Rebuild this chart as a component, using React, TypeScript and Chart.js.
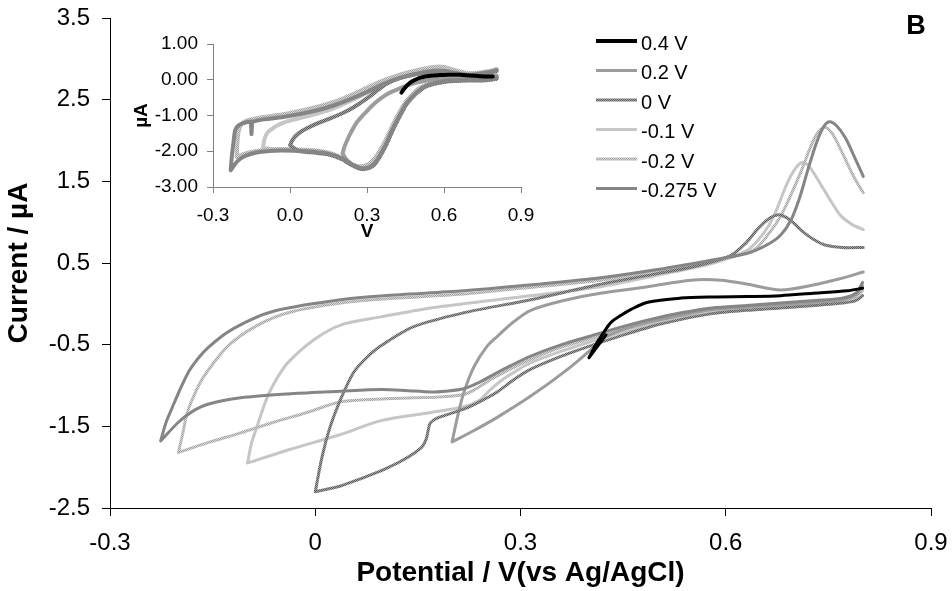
import React, { useEffect, useRef } from 'react';
import { Chart, registerables } from 'chart.js';

Chart.register(...registerables);

const FONT = "'Liberation Sans', Arial, Helvetica, sans-serif";

// ---------- labels / ticks ----------
const seriesLabels = ['0.4 V', '0.2 V', '0 V', '-0.1 V', '-0.2 V', '-0.275 V'];
const xTicks = [-0.3, 0, 0.3, 0.6, 0.9];
const xTickLabels = ['-0.3', '0', '0.3', '0.6', '0.9'];
const yTicks = [-2.5, -1.5, -0.5, 0.5, 1.5, 2.5, 3.5];
const yTickLabels = ['-2.5', '-1.5', '-0.5', '0.5', '1.5', '2.5', '3.5'];
const insetXTicks = [-0.3, 0, 0.3, 0.6, 0.9];
const insetXTickLabels = ['-0.3', '0.0', '0.3', '0.6', '0.9'];
const insetYTicks = [-3, -2, -1, 0, 1];
const insetYTickLabels = ['-3.00', '-2.00', '-1.00', '0.00', '1.00'];

// ---------- main chart series: [potential V, current uA] ----------
const main04 = [
  [0.425, -0.38], [0.4, -0.66], [0.4, -0.66], [0.41, -0.5], [0.42, -0.37], [0.432, -0.23],
  [0.447, -0.14], [0.461, -0.07], [0.486, 0.02], [0.534, 0.07], [0.58, 0.085], [0.632, 0.09],
  [0.68, 0.1], [0.728, 0.13], [0.778, 0.16], [0.8, 0.19],
];
const main02 = [
  [0.8, 0.22], [0.79, 0.11], [0.77, 0.05], [0.73, 0.02], [0.68, -0.01], [0.63, -0.04], [0.58, -0.07],
  [0.535, -0.14], [0.49, -0.22], [0.455, -0.3], [0.43, -0.38], [0.417, -0.44], [0.403, -0.56],
  [0.363, -0.84], [0.315, -1.13], [0.266, -1.39], [0.23, -1.56], [0.2, -1.69], [0.2, -1.69],
  [0.208, -1.38], [0.217, -1.09], [0.232, -0.77], [0.251, -0.52], [0.266, -0.4], [0.29, -0.22],
  [0.315, -0.08], [0.363, 0.04], [0.417, 0.13], [0.486, 0.21], [0.549, 0.29], [0.593, 0.29],
  [0.632, 0.24], [0.68, 0.17], [0.728, 0.23], [0.768, 0.31], [0.801, 0.39],
];
const main00 = [
  [0.8, 0.1], [0.79, 0.04], [0.77, 0.01], [0.73, -0.02], [0.68, -0.05], [0.63, -0.08], [0.58, -0.12],
  [0.535, -0.19], [0.49, -0.28], [0.44, -0.41], [0.4, -0.52], [0.36, -0.64], [0.315, -0.8],
  [0.29, -0.93], [0.266, -1.08], [0.24, -1.2], [0.217, -1.29], [0.195, -1.35], [0.178, -1.4],
  [0.168, -1.46], [0.165, -1.55], [0.162, -1.66], [0.155, -1.76], [0.129, -1.91], [0.1, -2.03],
  [0.07, -2.13], [0.037, -2.23], [0.0, -2.3], [0.0, -2.3], [0.01, -1.87], [0.022, -1.5],
  [0.037, -1.17], [0.056, -0.84], [0.075, -0.66], [0.095, -0.52], [0.144, -0.28], [0.217, -0.11],
  [0.315, 0.05], [0.417, 0.24], [0.5, 0.37], [0.56, 0.47], [0.607, 0.59], [0.63, 0.75],
  [0.645, 0.9], [0.661, 1.03], [0.677, 1.09], [0.69, 1.05], [0.699, 0.99], [0.713, 0.88],
  [0.728, 0.79], [0.745, 0.72], [0.77, 0.69], [0.801, 0.69],
];
const mainM01 = [
  [0.8, 0.16], [0.79, 0.07], [0.77, 0.03], [0.73, 0.0], [0.68, -0.03], [0.63, -0.06], [0.58, -0.09],
  [0.535, -0.16], [0.49, -0.25], [0.44, -0.37], [0.4, -0.47], [0.36, -0.58], [0.315, -0.72],
  [0.3, -0.79], [0.275, -0.92], [0.256, -1.05], [0.24, -1.18], [0.217, -1.26], [0.169, -1.33],
  [0.096, -1.43], [0.037, -1.6], [-0.036, -1.78], [-0.099, -1.95], [-0.099, -1.95],
  [-0.093, -1.7], [-0.087, -1.55], [-0.07, -1.14], [-0.055, -0.9], [-0.04, -0.72], [-0.002, -0.44],
  [0.037, -0.26], [0.096, -0.16], [0.169, -0.05], [0.266, 0.05], [0.417, 0.21], [0.5, 0.35],
  [0.582, 0.5], [0.632, 0.66], [0.655, 0.86], [0.67, 1.07], [0.69, 1.48], [0.702, 1.66],
  [0.712, 1.73], [0.722, 1.68], [0.739, 1.46], [0.755, 1.24], [0.768, 1.08], [0.785, 0.97],
  [0.801, 0.91],
];
const mainM02 = [
  [0.8, 0.2], [0.79, 0.09], [0.77, 0.05], [0.73, 0.02], [0.68, -0.01], [0.63, -0.04], [0.58, -0.07],
  [0.535, -0.13], [0.49, -0.21], [0.44, -0.33], [0.4, -0.43], [0.36, -0.53], [0.315, -0.68],
  [0.285, -0.8], [0.256, -0.93], [0.235, -1.04], [0.217, -1.11], [0.18, -1.14], [0.144, -1.15],
  [0.08, -1.17], [0.037, -1.2], [-0.012, -1.33], [-0.061, -1.45], [-0.109, -1.58], [-0.157, -1.7],
  [-0.2, -1.82], [-0.2, -1.82], [-0.194, -1.6], [-0.187, -1.33], [-0.175, -1.08], [-0.163, -0.89],
  [-0.128, -0.52], [-0.084, -0.26], [-0.036, -0.1], [0.037, 0.01], [0.1, 0.06], [0.217, 0.12],
  [0.3, 0.19], [0.417, 0.29], [0.5, 0.4], [0.582, 0.52], [0.641, 0.66], [0.662, 0.85],
  [0.68, 1.07], [0.695, 1.33], [0.709, 1.6], [0.728, 2.0], [0.738, 2.13], [0.746, 2.16],
  [0.756, 2.08], [0.768, 1.89], [0.787, 1.56], [0.801, 1.36],
];
const mainM0275 = [
  [0.8, 0.26], [0.79, 0.13], [0.77, 0.07], [0.73, 0.04], [0.68, 0.01], [0.63, -0.02], [0.58, -0.05],
  [0.535, -0.11], [0.49, -0.19], [0.44, -0.3], [0.4, -0.4], [0.36, -0.5], [0.315, -0.64],
  [0.285, -0.76], [0.262, -0.86], [0.24, -0.96], [0.217, -1.04], [0.19, -1.07], [0.169, -1.08],
  [0.13, -1.06], [0.096, -1.05], [0.037, -1.07], [-0.036, -1.1], [-0.109, -1.15], [-0.157, -1.23],
  [-0.18, -1.32], [-0.2, -1.45], [-0.226, -1.68], [-0.226, -1.68], [-0.218, -1.45], [-0.207, -1.23],
  [-0.195, -1.0], [-0.182, -0.79], [-0.157, -0.54], [-0.119, -0.3], [-0.061, -0.09], [0.037, 0.05],
  [0.1, 0.1], [0.217, 0.16], [0.3, 0.22], [0.417, 0.32], [0.5, 0.42], [0.582, 0.54], [0.632, 0.62],
  [0.66, 0.72], [0.68, 0.84], [0.695, 1.02], [0.708, 1.3], [0.72, 1.64], [0.733, 1.98],
  [0.744, 2.18], [0.752, 2.23], [0.762, 2.18], [0.775, 2.03], [0.788, 1.8], [0.801, 1.56],
];

// ---------- inset series ----------
const inset04 = [
  [0.434, -0.36], [0.445, -0.25], [0.46, -0.13], [0.48, -0.03], [0.505, 0.05], [0.532, 0.1],
  [0.58, 0.13], [0.62, 0.14], [0.661, 0.14], [0.7, 0.12], [0.74, 0.1], [0.765, 0.09], [0.79, 0.09],
];
const inset02 = [
  [0.805, 0.05], [0.78, 0.01], [0.75, -0.01], [0.69, -0.01], [0.61, -0.04], [0.558, -0.11],
  [0.53, -0.18], [0.506, -0.29], [0.48, -0.46], [0.454, -0.67], [0.435, -0.91], [0.415, -1.18],
  [0.395, -1.48], [0.376, -1.79], [0.36, -2.01], [0.344, -2.21], [0.328, -2.36], [0.311, -2.45],
  [0.295, -2.48], [0.283, -2.49], [0.268, -2.47], [0.253, -2.42], [0.235, -2.33], [0.218, -2.22],
  [0.205, -2.06], [0.205, -2.06], [0.212, -1.88], [0.22, -1.74], [0.232, -1.55], [0.246, -1.36],
  [0.265, -1.15], [0.298, -0.89], [0.33, -0.66], [0.363, -0.47], [0.395, -0.34], [0.428, -0.24],
  [0.46, -0.15], [0.493, -0.08], [0.53, -0.02], [0.57, 0.02], [0.62, 0.03], [0.68, 0.03],
  [0.74, 0.05], [0.805, 0.12],
];
const inset00 = [
  [0.805, 0.03], [0.78, 0.0], [0.75, -0.02], [0.69, -0.02], [0.61, -0.05], [0.558, -0.12],
  [0.53, -0.19], [0.506, -0.3], [0.48, -0.47], [0.454, -0.68], [0.435, -0.92], [0.415, -1.19],
  [0.395, -1.49], [0.376, -1.8], [0.36, -2.02], [0.344, -2.22], [0.328, -2.37], [0.311, -2.46],
  [0.295, -2.49], [0.283, -2.5], [0.268, -2.48], [0.253, -2.43], [0.23, -2.34], [0.207, -2.24],
  [0.175, -2.14], [0.142, -2.08], [0.1, -2.04], [0.064, -2.02], [0.03, -1.98], [0.0, -1.83],
  [0.0, -1.83], [0.012, -1.66], [0.03, -1.52], [0.06, -1.38], [0.1, -1.24], [0.15, -1.1],
  [0.2, -0.95], [0.25, -0.76], [0.3, -0.52], [0.34, -0.3], [0.38, -0.1], [0.43, 0.05],
  [0.493, 0.16], [0.558, 0.22], [0.6, 0.22], [0.623, 0.2], [0.66, 0.15], [0.688, 0.12],
  [0.72, 0.13], [0.753, 0.17], [0.78, 0.2], [0.805, 0.24],
];
const insetM01 = [
  [0.805, 0.08], [0.78, 0.04], [0.75, 0.02], [0.69, 0.01], [0.61, -0.02], [0.558, -0.08],
  [0.53, -0.15], [0.5, -0.27], [0.475, -0.44], [0.45, -0.64], [0.43, -0.88], [0.41, -1.14],
  [0.39, -1.45], [0.37, -1.75], [0.352, -1.99], [0.336, -2.16], [0.318, -2.31], [0.3, -2.4],
  [0.28, -2.44], [0.262, -2.43], [0.245, -2.39], [0.222, -2.3], [0.2, -2.2], [0.17, -2.1],
  [0.14, -2.04], [0.1, -2.0], [0.064, -1.98], [0.0, -1.96], [-0.06, -1.95], [-0.105, -1.9],
  [-0.105, -1.9], [-0.1, -1.68], [-0.09, -1.5], [-0.075, -1.4], [-0.05, -1.28], [-0.014, -1.17],
  [0.03, -1.09], [0.064, -1.03], [0.12, -0.92], [0.17, -0.8], [0.233, -0.6], [0.3, -0.36],
  [0.363, -0.12], [0.43, 0.07], [0.493, 0.2], [0.558, 0.29], [0.6, 0.29], [0.623, 0.26],
  [0.66, 0.2], [0.688, 0.17], [0.72, 0.17], [0.753, 0.2], [0.78, 0.23], [0.805, 0.28],
];
const insetM02 = [
  [0.805, 0.1], [0.78, 0.05], [0.75, 0.03], [0.69, 0.02], [0.61, -0.01], [0.558, -0.07],
  [0.53, -0.14], [0.5, -0.25], [0.475, -0.42], [0.45, -0.62], [0.43, -0.86], [0.41, -1.12],
  [0.39, -1.42], [0.37, -1.72], [0.352, -1.96], [0.336, -2.14], [0.318, -2.29], [0.3, -2.38],
  [0.28, -2.42], [0.262, -2.41], [0.245, -2.37], [0.222, -2.28], [0.2, -2.18], [0.17, -2.08],
  [0.14, -2.02], [0.1, -1.98], [0.064, -1.96], [-0.027, -1.94], [-0.08, -1.95], [-0.12, -1.98],
  [-0.16, -2.03], [-0.19, -2.1], [-0.208, -2.16], [-0.208, -2.16], [-0.206, -1.9], [-0.203, -1.6],
  [-0.198, -1.38], [-0.188, -1.24], [-0.17, -1.14], [-0.12, -1.06], [-0.06, -1.0], [-0.014, -0.95],
  [0.103, -0.76], [0.17, -0.62], [0.233, -0.44], [0.3, -0.22], [0.363, -0.02], [0.43, 0.15],
  [0.493, 0.27], [0.558, 0.36], [0.6, 0.36], [0.623, 0.31], [0.66, 0.24], [0.688, 0.19],
  [0.72, 0.19], [0.753, 0.22], [0.78, 0.25], [0.805, 0.3],
];
const insetM0275 = [
  [0.805, 0.06], [0.78, 0.02], [0.75, 0.0], [0.69, 0.0], [0.61, -0.03], [0.558, -0.1],
  [0.53, -0.17], [0.506, -0.28], [0.48, -0.45], [0.454, -0.66], [0.435, -0.9], [0.415, -1.17],
  [0.395, -1.47], [0.376, -1.78], [0.36, -2.0], [0.344, -2.2], [0.328, -2.35], [0.311, -2.44],
  [0.295, -2.47], [0.285, -2.48], [0.27, -2.46], [0.253, -2.41], [0.23, -2.32], [0.207, -2.22],
  [0.175, -2.12], [0.142, -2.06], [0.1, -2.02], [0.064, -2.0], [-0.027, -1.98], [-0.08, -1.99],
  [-0.118, -2.02], [-0.15, -2.07], [-0.183, -2.16], [-0.205, -2.28], [-0.231, -2.53], [-0.231, -2.53],
  [-0.226, -2.1], [-0.22, -1.75], [-0.215, -1.45], [-0.208, -1.33], [-0.195, -1.25], [-0.17, -1.19],
  [-0.152, -1.17], [-0.152, -1.17], [-0.15, -1.52], [-0.15, -1.52], [-0.148, -1.18], [-0.148, -1.18],
  [-0.12, -1.13], [-0.08, -1.09], [-0.014, -1.03], [0.103, -0.86], [0.17, -0.72], [0.233, -0.55],
  [0.3, -0.34], [0.363, -0.12], [0.43, 0.05], [0.493, 0.17], [0.558, 0.25], [0.6, 0.25],
  [0.623, 0.22], [0.66, 0.17], [0.688, 0.14], [0.72, 0.15], [0.753, 0.19], [0.78, 0.22], [0.805, 0.27],
];

const mainSeries = [main04, main02, main00, mainM01, mainM02, mainM0275];
const insetSeries = [inset04, inset02, inset00, insetM01, insetM02, insetM0275];

// ---------- styles ----------
const lineStyles: { color: string; pattern?: [string, string] }[] = [
  { color: '#000000' },
  { color: '#9c9c9c' },
  { color: '#7c7c7c', pattern: ['#5e5e5e', '#a2a2a2'] },
  { color: '#c6c6c6' },
  { color: '#bababa', pattern: ['#a4a4a4', '#d6d6d6'] },
  { color: '#858585' },
];
const drawOrder = [0, 3, 2, 5, 4, 1];

function makePattern(c1: string, c2: string, fallback: string): any {
  const pc = document.createElement('canvas');
  pc.width = 2;
  pc.height = 2;
  const g = pc.getContext('2d');
  if (!g) return fallback;
  g.fillStyle = c2;
  g.fillRect(0, 0, 2, 2);
  g.fillStyle = c1;
  g.fillRect(0, 0, 1, 1);
  g.fillRect(1, 1, 1, 1);
  return g.createPattern(pc, 'repeat') || fallback;
}

const legendPlugin = {
  id: 'cvLegend',
  afterDraw(chart: any) {
    const ctx = chart.ctx;
    ctx.save();
    chart.data.datasets.forEach((ds: any, i: number) => {
      const y = 41 + i * 29.5;
      ctx.strokeStyle = ds.borderColor;
      ctx.lineWidth = i === 0 ? 4 : 3;
      ctx.lineCap = 'butt';
      ctx.beginPath();
      ctx.moveTo(596, y);
      ctx.lineTo(637, y);
      ctx.stroke();
      ctx.fillStyle = '#000';
      ctx.font = `20px ${FONT}`;
      ctx.textBaseline = 'middle';
      ctx.textAlign = 'left';
      ctx.fillText(ds.label, 641, y + 3);
    });
    ctx.font = `bold 27px ${FONT}`;
    ctx.textAlign = 'center';
    ctx.textBaseline = 'middle';
    ctx.fillStyle = '#000';
    ctx.fillText('B', 916, 27);
    ctx.restore();
  },
};

function buildDatasets(series: number[][][], colors: any[], width: number) {
  return series.map((pts, i) => ({
    label: seriesLabels[i],
    data: pts.map(([x, y]) => ({ x, y })),
    showLine: true,
    borderColor: colors[i],
    backgroundColor: colors[i],
    borderWidth: width,
    pointRadius: 0,
    pointHoverRadius: 0,
    tension: 0.3,
    fill: false,
    order: drawOrder[i],
    borderJoinStyle: 'round',
    borderCapStyle: 'round',
  }));
}

function fixX(h: number) {
  return (s: any) => {
    s.height = h;
    s.paddingLeft = 0;
    s.paddingRight = 0;
  };
}
function fixY(w: number) {
  return (s: any) => {
    s.width = w;
    s.paddingTop = 0;
    s.paddingBottom = 0;
  };
}

export default function App() {
  const mainRef = useRef<HTMLCanvasElement>(null);
  const insetRef = useRef<HTMLCanvasElement>(null);

  useEffect(() => {
    const colors = lineStyles.map((s) => (s.pattern ? makePattern(s.pattern[0], s.pattern[1], s.color) : s.color));

    const main = new Chart(mainRef.current as HTMLCanvasElement, {
      type: 'scatter',
      data: { datasets: buildDatasets(mainSeries, colors, 3) as any },
      options: {
        animation: false,
        responsive: false,
        devicePixelRatio: 1,
        layout: { padding: { top: 18, right: 21, left: 0, bottom: 0 } },
        plugins: { legend: { display: false }, tooltip: { enabled: false }, title: { display: false } },
        scales: {
          x: {
            type: 'linear',
            min: -0.3,
            max: 0.9,
            afterBuildTicks: (s: any) => {
              s.ticks = xTicks.map((v) => ({ value: v }));
            },
            afterFit: fixX(83),
            ticks: {
              callback: (_v: any, i: number) => xTickLabels[i],
              font: { family: FONT, size: 24 },
              color: '#000',
              padding: 13,
              maxRotation: 0,
              autoSkip: false,
            },
            grid: { display: true, drawOnChartArea: false, drawTicks: true, tickLength: 8, color: '#000', lineWidth: 1 },
            border: { display: true, color: '#000', width: 1 },
            title: {
              display: true,
              text: 'Potential / V(vs Ag/AgCl)',
              font: { family: FONT, size: 28, weight: 'bold' },
              color: '#000',
              padding: { top: 0, bottom: 1 },
            },
          },
          y: {
            type: 'linear',
            min: -2.5,
            max: 3.5,
            afterBuildTicks: (s: any) => {
              s.ticks = yTicks.map((v) => ({ value: v }));
            },
            afterFit: fixY(110),
            ticks: {
              callback: (_v: any, i: number) => yTickLabels[i],
              font: { family: FONT, size: 24 },
              color: '#000',
              padding: 12,
              autoSkip: false,
            },
            grid: { display: true, drawOnChartArea: false, drawTicks: true, tickLength: 8, color: '#000', lineWidth: 1 },
            border: { display: true, color: '#000', width: 1 },
            title: {
              display: true,
              text: 'Current / µA',
              font: { family: FONT, size: 28, weight: 'bold' },
              color: '#000',
              padding: { top: 2, bottom: 0 },
            },
          },
        },
      } as any,
      plugins: [legendPlugin],
    });

    const inset = new Chart(insetRef.current as HTMLCanvasElement, {
      type: 'scatter',
      data: { datasets: buildDatasets(insetSeries, colors, 4) as any },
      options: {
        animation: false,
        responsive: false,
        devicePixelRatio: 1,
        layout: { padding: { top: 14, right: 29, left: 0, bottom: 0 } },
        plugins: { legend: { display: false }, tooltip: { enabled: false }, title: { display: false } },
        scales: {
          x: {
            type: 'linear',
            min: -0.3,
            max: 0.9,
            afterBuildTicks: (s: any) => {
              s.ticks = insetXTicks.map((v) => ({ value: v }));
            },
            afterFit: fixX(63),
            ticks: {
              callback: (_v: any, i: number) => insetXTickLabels[i],
              font: { family: FONT, size: 19 },
              color: '#000',
              padding: 11,
              maxRotation: 0,
              autoSkip: false,
            },
            grid: { display: true, drawOnChartArea: false, drawTicks: true, tickLength: 6, color: '#808080', lineWidth: 1 },
            border: { display: true, color: '#808080', width: 1 },
            title: {
              display: true,
              text: 'V',
              font: { family: FONT, size: 19, weight: 'bold' },
              color: '#000',
              padding: { top: 0, bottom: 7 },
            },
          },
          y: {
            type: 'linear',
            min: -3,
            max: 1,
            afterBuildTicks: (s: any) => {
              s.ticks = insetYTicks.map((v) => ({ value: v }));
            },
            afterFit: fixY(83),
            ticks: {
              callback: (_v: any, i: number) => insetYTickLabels[i],
              font: { family: FONT, size: 19 },
              color: '#000',
              padding: 9,
              autoSkip: false,
            },
            grid: { display: true, drawOnChartArea: false, drawTicks: true, tickLength: 6, color: '#808080', lineWidth: 1 },
            border: { display: true, color: '#808080', width: 1 },
            title: {
              display: true,
              text: 'µA',
              font: { family: FONT, size: 19, weight: 'bold' },
              color: '#000',
              padding: { top: 0, bottom: 0 },
            },
          },
        },
      } as any,
    });

    return () => {
      main.destroy();
      inset.destroy();
    };
  }, []);

  return (
    <div style={{ position: 'absolute', left: 0, top: 0, width: 952, height: 591, background: '#fff' }}>
      <canvas
        ref={mainRef}
        width={952}
        height={591}
        style={{ position: 'absolute', left: 0, top: 0, width: 952, height: 591, display: 'block' }}
      />
      <canvas
        ref={insetRef}
        width={420}
        height={220}
        style={{ position: 'absolute', left: 130, top: 30, width: 420, height: 220, display: 'block' }}
      />
    </div>
  );
}
